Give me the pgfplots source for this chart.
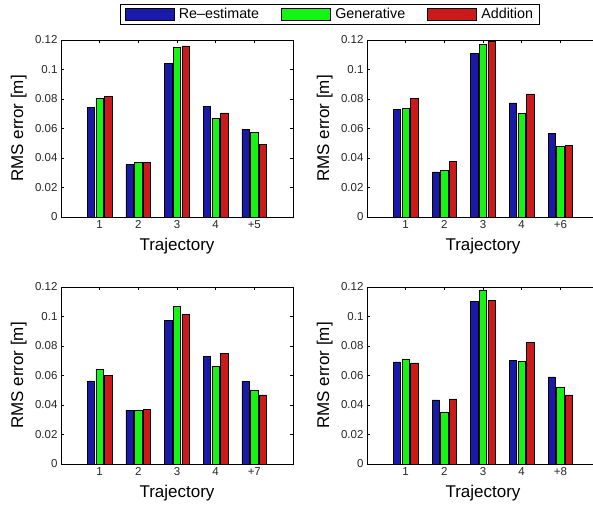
\documentclass[border=0pt]{standalone}
\usepackage{pgfplots}
\usepackage{pgfplotstable}
\usepackage{fontspec}
\setmainfont{Liberation Sans}
\pgfplotsset{compat=1.18}

\definecolor{cBlue}{RGB}{26,26,170}
\definecolor{cGreen}{RGB}{20,245,20}
\definecolor{cRed}{RGB}{204,26,26}

% RMS errors per trajectory: re-estimate, generative, addition
\pgfplotstableread{
traj reest gen add
1 0.0744 0.0805 0.0817
2 0.0354 0.0368 0.0372
3 0.1042 0.1150 0.1160
4 0.0749 0.0670 0.0706
5 0.0596 0.0573 0.0494
}\runA
\pgfplotstableread{
traj reest gen add
1 0.0727 0.0738 0.0806
2 0.0306 0.0317 0.0378
3 0.1107 0.1170 0.1189
4 0.0774 0.0704 0.0835
5 0.0568 0.0480 0.0487
}\runB
\pgfplotstableread{
traj reest gen add
1 0.0563 0.0644 0.0599
2 0.0365 0.0365 0.0369
3 0.0975 0.1070 0.1015
4 0.0732 0.0664 0.0750
5 0.0558 0.0500 0.0468
}\runC
\pgfplotstableread{
traj reest gen add
1 0.0692 0.0712 0.0685
2 0.0434 0.0353 0.0441
3 0.1105 0.1180 0.1110
4 0.0705 0.0698 0.0823
5 0.0590 0.0522 0.0468
}\runD

\pgfplotsset{
  rmsaxis/.style={
    scale only axis,
    width=232pt, height=177pt,
    anchor=south west,
    xmin=0, xmax=6,
    ymin=0, ymax=0.12,
    xtick={1,2,3,4,5},
    ytick={0,0.02,0.04,0.06,0.08,0.1,0.12},
    yticklabels={0,0.02,0.04,0.06,0.08,0.1,0.12},
    scaled y ticks=false,
    tick align=inside,
    major tick length=3pt,
    xtick pos=both, ytick pos=both,
    axis line style={line width=0.9pt},
    every tick/.style={black, line width=0.6pt},
    /pgf/number format/assume math mode=true,
    ticklabel style={font=\fontsize{11.5}{13}\selectfont, text=black!85},
    xlabel={Trajectory},
    ylabel={RMS error [m]},
    label style={font=\fontsize{17}{19}\selectfont},
    xlabel style={at={(axis description cs:0.5,-0.118)}, anchor=north, inner sep=0pt},
    ylabel style={at={(axis description cs:-0.147,0.5)}, anchor=south, inner sep=0pt, rotate=0},
    legend image code/.code={\draw[#1] (0pt,-6pt) rectangle (49pt,6pt);},
  },
  rmsbar/.style={ybar, bar width=0.19, draw=black, line width=0.6pt, fill=#1},
}

\begin{document}
\begin{tikzpicture}
% top left
\begin{axis}[rmsaxis, at={(61pt,289pt)},
  xticklabels={1,2,3,4,+5},
  legend columns=3,
  legend cell align=left,
  legend style={at={(axis description cs:1.159,1.147)}, anchor=center,
    draw=black, line width=0.8pt, font=\fontsize{14.3}{16}\selectfont,
    inner xsep=4pt, inner ysep=2pt,
    /tikz/every odd column/.append style={column sep=2.5pt},
    /tikz/every even column/.append style={column sep=20pt},
    nodes={inner sep=2pt}}]
  \addplot[rmsbar=cBlue, bar shift=-0.224] table[x=traj, y=reest] {\runA};
  \addplot[rmsbar=cGreen, bar shift=0] table[x=traj, y=gen] {\runA};
  \addplot[rmsbar=cRed, bar shift=0.224] table[x=traj, y=add] {\runA};
  \legend{Re--estimate, Generative, Addition}
\end{axis}
% top right
\begin{axis}[rmsaxis, at={(367pt,289pt)}, xticklabels={1,2,3,4,+6}]
  \addplot[rmsbar=cBlue, bar shift=-0.224] table[x=traj, y=reest] {\runB};
  \addplot[rmsbar=cGreen, bar shift=0] table[x=traj, y=gen] {\runB};
  \addplot[rmsbar=cRed, bar shift=0.224] table[x=traj, y=add] {\runB};
\end{axis}
% bottom left
\begin{axis}[rmsaxis, at={(61pt,42pt)}, xticklabels={1,2,3,4,+7}]
  \addplot[rmsbar=cBlue, bar shift=-0.224] table[x=traj, y=reest] {\runC};
  \addplot[rmsbar=cGreen, bar shift=0] table[x=traj, y=gen] {\runC};
  \addplot[rmsbar=cRed, bar shift=0.224] table[x=traj, y=add] {\runC};
\end{axis}
% bottom right
\begin{axis}[rmsaxis, at={(367pt,42pt)}, xticklabels={1,2,3,4,+8}]
  \addplot[rmsbar=cBlue, bar shift=-0.224] table[x=traj, y=reest] {\runD};
  \addplot[rmsbar=cGreen, bar shift=0] table[x=traj, y=gen] {\runD};
  \addplot[rmsbar=cRed, bar shift=0.224] table[x=traj, y=add] {\runD};
\end{axis}
\pgfresetboundingbox
\path[use as bounding box] (0pt,0pt) rectangle (593pt,506pt);
\end{tikzpicture}
\end{document}
